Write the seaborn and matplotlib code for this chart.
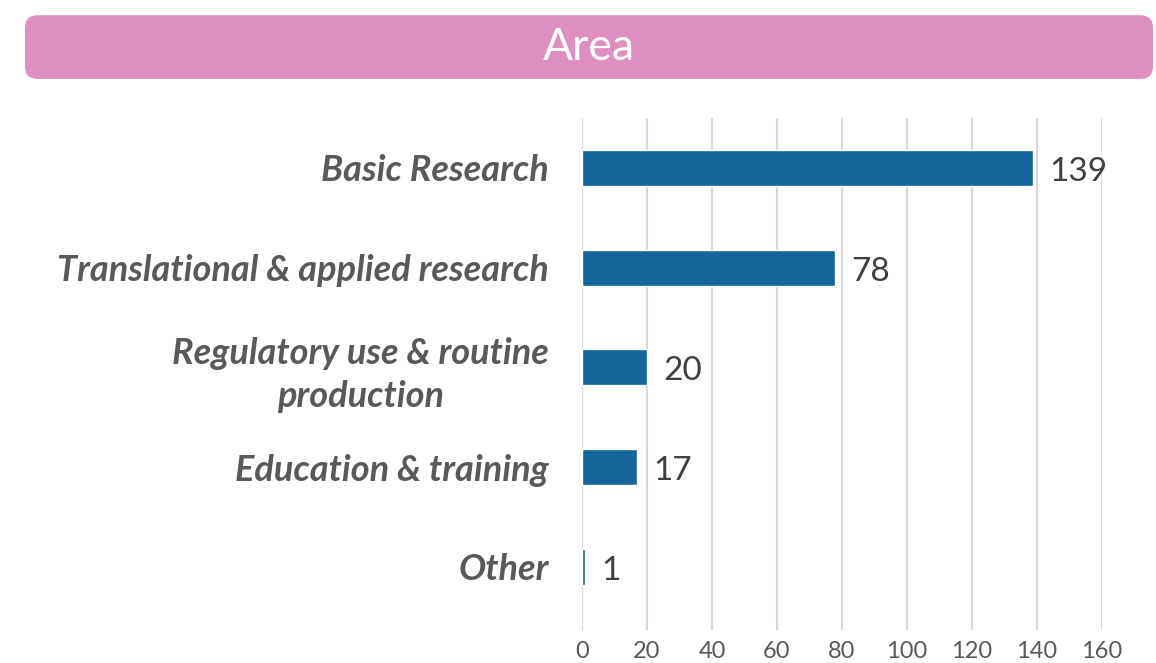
import seaborn as sns
import matplotlib.pyplot as plt
import pandas as pd
from matplotlib.patches import FancyBboxPatch

categories = ['Basic Research', 'Translational & applied research',
              'Regulatory use & routine\nproduction', 'Education & training', 'Other']
counts = [139, 78, 20, 17, 1]
xticks = [0, 20, 40, 60, 80, 100, 120, 140, 160]
title = 'Area'

sns.set_style('white')
plt.rcParams['font.family'] = ['Lato', 'DejaVu Sans']

df = pd.DataFrame({'Area': categories, 'Count': counts})

fig = plt.figure(figsize=(11.56, 6.63), dpi=100)
ax = fig.add_axes([0.5035, 0.050, 0.4495, 0.772])

sns.barplot(data=df, y='Area', x='Count', orient='h', color='#15669c',
            width=0.36, saturation=1, ax=ax)

ax.set_xlim(0, 160)
ax.set_ylim(4.63, -0.5)
ax.set_xticks(xticks)
ax.grid(axis='x', color='#d9d9d9', linewidth=1.5)
ax.set_axisbelow(True)
for s in ax.spines.values():
    s.set_visible(False)
ax.set_xlabel('')
ax.set_ylabel('')
ax.tick_params(axis='x', length=0, labelsize=17, labelcolor='#595959', pad=8)
ax.tick_params(axis='y', length=0, pad=24)
for lbl in ax.get_yticklabels():
    lbl.set_fontsize(26)
    lbl.set_fontweight('bold')
    lbl.set_fontstyle('italic')
    lbl.set_color('#595959')
    lbl.set_multialignment('center')
    lbl.set_linespacing(1.35)

for i, v in enumerate(counts):
    ax.text(v + 5, i + 0.04, str(v), va='center', ha='left', fontsize=24, color='#404040')

# pink title banner
box = FancyBboxPatch((0.0216, 0.881), 0.9758, 0.096, transform=fig.transFigure,
                     boxstyle='round,pad=0,rounding_size=0.011', mutation_aspect=1.74,
                     facecolor='#df8fbf', edgecolor='none')
fig.patches.append(box)
fig.text(0.509, 0.928, title, ha='center', va='center', fontsize=32, color='white')

fig.savefig('out.png', dpi=100)
